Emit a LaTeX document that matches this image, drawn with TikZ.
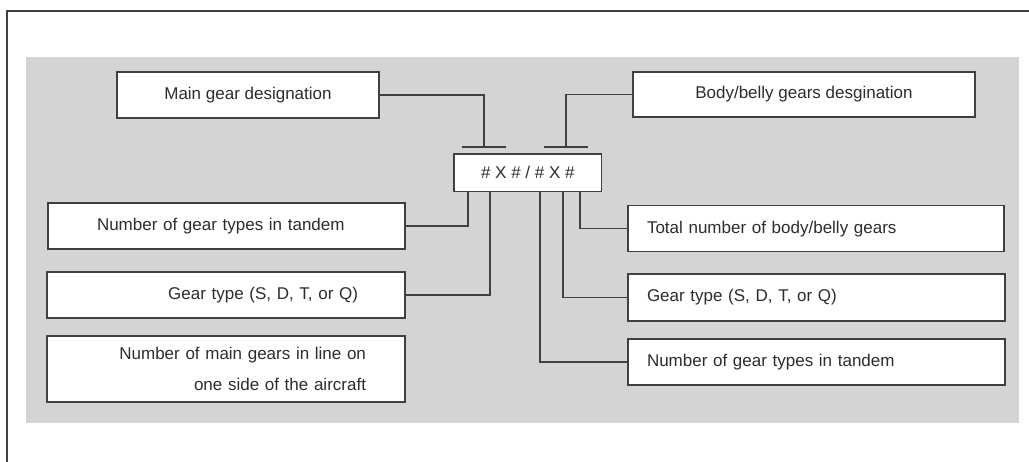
\documentclass[tikz,border=0pt]{standalone}
\usepackage{fontspec}
\setmainfont{Liberation Sans}
\definecolor{panel}{RGB}{212,212,212}
\definecolor{ink}{RGB}{64,64,64}
\definecolor{txt}{RGB}{45,45,45}
\begin{document}
\begin{tikzpicture}[x=1pt,y=-1pt,
  lbl/.style={draw=ink,line width=1.3pt,fill=white,rectangle,text=txt,
    font=\fontsize{17}{20}\selectfont,inner ysep=0pt},
  conn/.style={draw=ink,line width=1.4pt}]
\useasboundingbox (0,0) rectangle (1029,462);
\fill[white] (0,0) rectangle (1029,462);
% outer frame (cropped)
\draw[ink,line width=1.3pt] (7,462) -- (7,11) -- (1029,11);
% grey panel
\fill[panel] (26,57) rectangle (1019,423);
% top boxes
\node[lbl,minimum width=262pt,minimum height=46pt] (main) at (248,95) {Main gear designation};
\node[lbl,minimum width=342pt,minimum height=45pt] (body) at (804,94.5) {Body/belly gears desgination};
% central code
\node[lbl,minimum width=147.7pt,minimum height=37.7pt] (code) at (527.8,172.8) {\# X \# / \# X \#};
% left boxes
\node[lbl,minimum width=357pt,minimum height=46pt,text width=259pt,align=left,inner xsep=49pt] (ltand) at (226.5,226) {Number of gear types in tandem};
\node[lbl,minimum width=358pt,minimum height=46pt,text width=264pt,align=right,inner xsep=47pt] (ltype) at (226,295) {Gear type (S, D, T, or Q)};
\node[lbl,minimum width=358pt,minimum height=66pt,text width=280pt,align=right,inner xsep=39pt,font=\fontsize{17}{31}\selectfont] (lnum) at (226,369) {Number of main gears in line on\\one side of the aircraft};
% right boxes
\node[lbl,minimum width=376pt,minimum height=46pt,text width=338pt,align=left,inner xsep=19pt] (rtot) at (816,228.7) {Total number of body/belly gears};
\node[lbl,minimum width=377pt,minimum height=47pt,text width=339pt,align=left,inner xsep=19pt] (rtype) at (816.5,297.5) {Gear type (S, D, T, or Q)};
\node[lbl,minimum width=377pt,minimum height=46pt,text width=339pt,align=left,inner xsep=19pt] (rtand) at (816.5,362) {Number of gear types in tandem};
% T-bars above the code
\coordinate (tA) at (484,147);
\coordinate (tB) at (566,147);
\draw[conn] (main.east) -| (tA);
\draw[conn] (body.west) -| (tB);
\draw[conn] ([xshift=-22pt]tA) -- ([xshift=22pt]tA);
\draw[conn] ([xshift=-22pt]tB) -- ([xshift=22pt]tB);
% lines below the code
\coordinate (d1) at (468,191.7);
\coordinate (d2) at (490,191.7);
\coordinate (d3) at (540,191.7);
\coordinate (d4) at (563,191.7);
\coordinate (d5) at (580,191.7);
\draw[conn] (d1) |- (ltand.east);
\draw[conn] (d2) |- (ltype.east);
\draw[conn] (d3) |- (rtand.west);
\draw[conn] (d4) |- (rtype.west);
\draw[conn] (d5) |- (rtot.west);
\end{tikzpicture}
\end{document}
